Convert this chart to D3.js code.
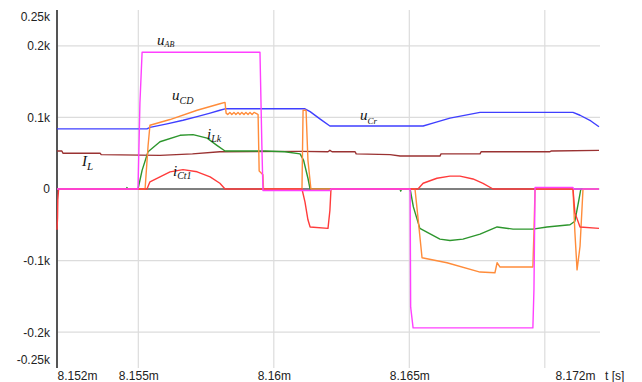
<!DOCTYPE html>
<html>
<head>
<meta charset="utf-8">
<script src="https://cdn.jsdelivr.net/npm/d3@7"></script>
<style>
  html, body { margin: 0; padding: 0; background: #fff; }
  svg { display: block; }
  .tick text { font-family: "Liberation Sans", Arial, sans-serif; font-size: 12px; fill: #222; }
  .lbl { font-family: "Liberation Serif", "Times New Roman", serif; font-style: italic; fill: #111; }
</style>
</head>
<body>
<svg id="chart" width="642" height="382"></svg>
<script>
// Time axis in ms, values in V / A
const xTicks = [8.152, 8.155, 8.16, 8.165, 8.172];
const xGrid = [8.155, 8.16, 8.165, 8.17];
const yTicks = [-250, -200, -100, 0, 100, 200, 250];
const yGrid = [-200, -100, 0, 100, 200];

// u_AB : bridge output voltage
const uAB = [
  [8.15200, 0], [8.15499, 0], [8.15506, 120], [8.15514, 191], [8.15949, 191],
  [8.15956, 60], [8.15960, -2], [8.16207, -2], [8.16211, 0], [8.16503, 0],
  [8.16505, -165], [8.16514, -194], [8.16956, -194], [8.16960, -140], [8.16964, 2],
  [8.17104, 2], [8.17107, 0], [8.17200, 0]
];

// u_Cr : resonant capacitor voltage
const uCr = [
  [8.15200, 84], [8.15532, 84], [8.15543, 86], [8.15606, 91], [8.15665, 96],
  [8.15717, 101], [8.15765, 106], [8.15801, 110], [8.15820, 112], [8.16115, 112],
  [8.16134, 108], [8.16170, 98], [8.16207, 88], [8.16551, 88], [8.16587, 92],
  [8.16650, 99], [8.16761, 107], [8.17104, 107], [8.17130, 103], [8.17170, 95],
  [8.17200, 87]
];

// I_L : output inductor current
const iL = [
  [8.15200, 53], [8.15218, 53], [8.15222, 50], [8.15359, 50], [8.15363, 48],
  [8.15580, 47], [8.15700, 49], [8.15801, 52], [8.16097, 52.5], [8.16200, 52],
  [8.16207, 54], [8.16215, 52], [8.16300, 52], [8.16304, 49], [8.16429, 48],
  [8.16466, 46], [8.16613, 46], [8.16617, 49], [8.16761, 49], [8.16765, 52],
  [8.17019, 52], [8.17023, 53], [8.17200, 54]
];

// i_Lk : leakage inductance current
const iLk = [
  [8.15200, 0], [8.15455, 0], [8.15458, 2], [8.15462, 0], [8.15499, 0],
  [8.15514, 26], [8.15536, 52], [8.15580, 66], [8.15654, 75], [8.15702, 76],
  [8.15754, 71], [8.15790, 61], [8.15820, 53], [8.15968, 53], [8.16041, 52],
  [8.16097, 49], [8.16110, 40], [8.16126, 15], [8.16134, 0], [8.16466, 0],
  [8.16468, -3], [8.16472, 0], [8.16503, 0], [8.16515, -25], [8.16539, -55],
  [8.16613, -70], [8.16650, -72], [8.16698, -70], [8.16761, -63], [8.16824, -53],
  [8.16883, -56], [8.16956, -56], [8.17008, -53], [8.17093, -50], [8.17111, -45],
  [8.17126, -15], [8.17133, 0], [8.17200, 0]
];

// u_CD : rectifier voltage
const uCD = [
  [8.15200, 0], [8.15525, 0], [8.15536, 60], [8.15543, 89], [8.15617, 97],
  [8.15717, 110], [8.15801, 119], [8.15820, 121], [8.15824, 106], [8.15830, 104],
  [8.15838, 107], [8.15845, 104], [8.15853, 107], [8.15860, 104], [8.15868, 107],
  [8.15875, 104], [8.15882, 107], [8.15890, 104], [8.15897, 107], [8.15905, 104],
  [8.15912, 107], [8.15920, 104], [8.15927, 107], [8.15938, 105], [8.15942, 104],
  [8.15946, 25], [8.15960, 20], [8.15962, 0], [8.16104, 0], [8.16108, 110],
  [8.16119, 110], [8.16126, 40], [8.16137, 0], [8.16521, 0], [8.16532, -40],
  [8.16547, -96], [8.16639, -103], [8.16761, -116], [8.16816, -117], [8.16824, -103],
  [8.16835, -109], [8.16956, -109], [8.16960, -60], [8.16964, 0], [8.17104, 0],
  [8.17111, -60], [8.17119, -113], [8.17130, -80], [8.17141, 0], [8.17200, 0]
];

// i_Ct1 : clamp capacitor current
const iCt1 = [
  [8.15200, -57], [8.15202, -40], [8.15203, -15], [8.15206, 0], [8.15532, 0],
  [8.15543, 10], [8.15580, 17], [8.15617, 24], [8.15665, 27], [8.15717, 24],
  [8.15765, 17], [8.15801, 8], [8.15820, 0], [8.16104, 0], [8.16115, -18],
  [8.16126, -43], [8.16134, -53], [8.16200, -55], [8.16207, -30], [8.16211, 0],
  [8.16532, 0], [8.16551, 8], [8.16602, 15], [8.16650, 18], [8.16687, 18],
  [8.16735, 14], [8.16772, 8], [8.16809, 0], [8.17104, 0], [8.17111, -33],
  [8.17130, -53], [8.17200, -55]
];

const series = [
  { name: "IL",   data: iL,   color: "#9a3232" },
  { name: "uCr",  data: uCr,  color: "#3f3fff" },
  { name: "iLk",  data: iLk,  color: "#2d962d" },
  { name: "uCD",  data: uCD,  color: "#ff8c3a" },
  { name: "iCt1", data: iCt1, color: "#ff3b3b" },
  { name: "uAB",  data: uAB,  color: "#ff40ff" }
];

const svg = d3.select("#chart");
const x = d3.scaleLinear().domain([8.152, 8.172]).range([57, 599]);
const y = d3.scaleLinear().domain([-250, 250]).range([368, 10]);

// grid
svg.append("g").selectAll("line").data(yGrid).join("line")
  .attr("x1", x(8.152)).attr("x2", x(8.172) + 1)
  .attr("y1", d => y(d)).attr("y2", d => y(d))
  .attr("stroke", "#dcdcdc").attr("stroke-width", 1.2);
svg.append("g").selectAll("line").data(xGrid).join("line")
  .attr("x1", d => x(d)).attr("x2", d => x(d))
  .attr("y1", y(250)).attr("y2", y(-250))
  .attr("stroke", "#dcdcdc").attr("stroke-width", 1.2);

// zero line
svg.append("line")
  .attr("x1", x(8.152)).attr("x2", x(8.172))
  .attr("y1", y(0)).attr("y2", y(0))
  .attr("stroke", "#5a5a5a").attr("stroke-width", 1.6);

// y axis
const yAxis = svg.append("g").attr("transform", `translate(${x(8.152)},0)`)
  .call(d3.axisLeft(y).tickValues(yTicks).tickSize(0).tickPadding(7)
    .tickFormat(d => d === 0 ? "0" : (d / 1000) + "k"));
yAxis.select(".domain").remove();
yAxis.selectAll(".tick").filter(d => d === 250).select("text").attr("dy", "0.85em");
yAxis.selectAll(".tick").filter(d => d === -250).select("text").attr("dy", "-0.4em");
svg.append("line")
  .attr("x1", x(8.152)).attr("x2", x(8.152))
  .attr("y1", y(250)).attr("y2", y(-250))
  .attr("stroke", "#555").attr("stroke-width", 2);

// x axis
const xAxis = svg.append("g").attr("transform", `translate(0,${y(-250)})`)
  .call(d3.axisBottom(x).tickValues(xTicks).tickSize(0).tickPadding(3)
    .tickFormat(d => d + "m"));
xAxis.select(".domain").remove();
xAxis.selectAll(".tick").filter(d => d === 8.152).select("text").attr("text-anchor", "start");
xAxis.selectAll(".tick").filter(d => d === 8.172).select("text").attr("text-anchor", "end").attr("x", -4);
svg.append("text").attr("x", 605).attr("y", 380)
  .style("font-family", "'Liberation Sans', Arial, sans-serif").style("font-size", "12px")
  .attr("fill", "#222").text("t [s]");

// traces
const line = d3.line().x(d => x(d[0])).y(d => y(d[1]));
svg.append("g").selectAll("path").data(series).join("path")
  .attr("d", d => line(d.data))
  .attr("fill", "none")
  .attr("stroke", d => d.color)
  .attr("stroke-width", 1.4)
  .attr("stroke-linejoin", "round");

// trace labels
function label(px, py, main, sub, size, subSize, dy) {
  const t = svg.append("text").attr("class", "lbl").attr("x", px).attr("y", py)
    .style("font-size", size + "px").text(main);
  t.append("tspan").attr("dy", dy).style("font-size", subSize + "px").text(sub);
}
label(157, 45, "u", "AB", 15, 8, 2);
label(172, 100, "u", "CD", 15, 10, 4);
label(207, 139, "i", "Lk", 15, 10, 3);
label(173, 176, "i", "Ct1", 15, 10, 3);
label(82, 166, "I", "L", 15, 11, 4);
label(360, 120, "u", "Cr", 15, 9, 4);
</script>
</body>
</html>
